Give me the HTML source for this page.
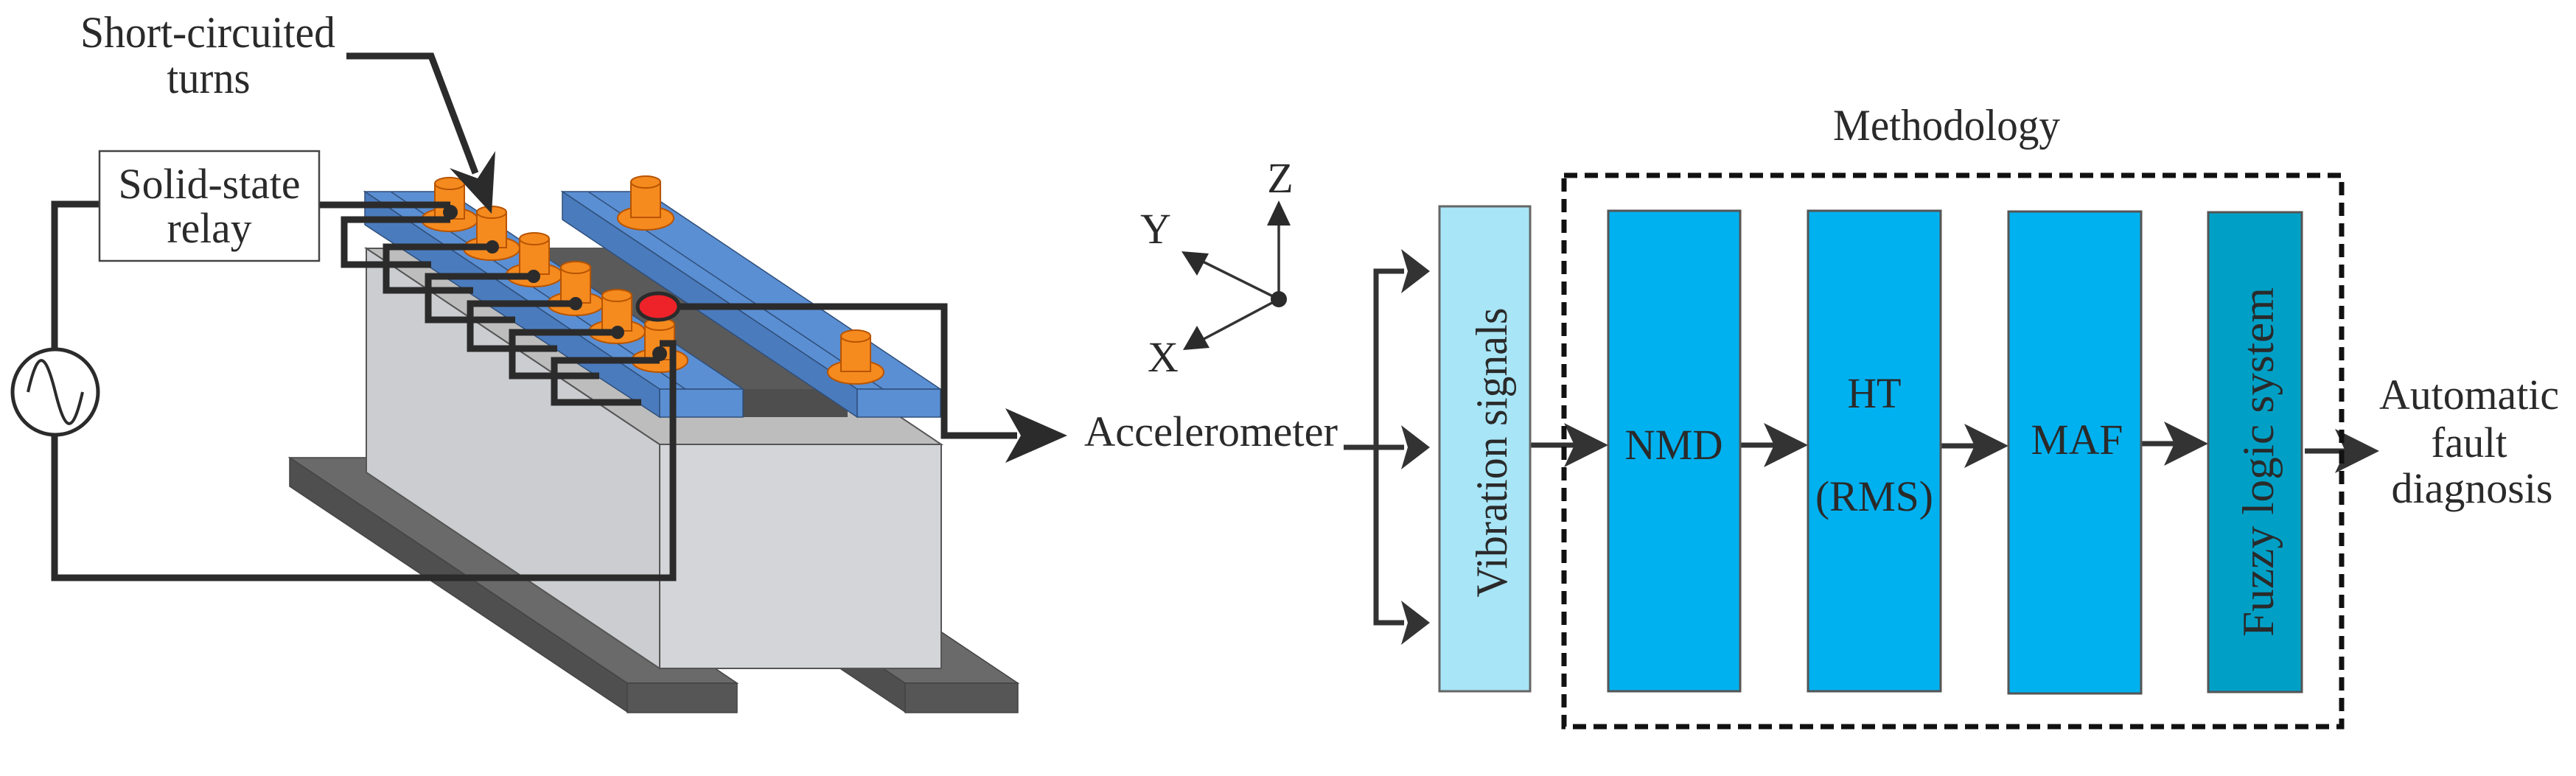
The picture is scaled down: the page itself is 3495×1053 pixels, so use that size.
<!DOCTYPE html>
<html><head><meta charset="utf-8"><style>
html,body{margin:0;padding:0;background:#fff;}
svg{display:block;}
svg text{font-family:"Liberation Serif","DejaVu Serif",serif !important;fill:#2a2a2a;}
</style></head><body>
<svg width="3495" height="1053" viewBox="0 0 3495 1053" xmlns="http://www.w3.org/2000/svg" font-family="'Liberation Serif', 'DejaVu Serif', serif">
<!-- base bars -->
<g stroke="#444" stroke-width="1.5">
<polygon points="393,621 546,621 1000,927 851,927" fill="#6a6a6a"/>
<polygon points="393,621 393,660 851,966 851,927" fill="#4f4f4f"/>
<rect x="851" y="927" width="149" height="40" fill="#565656"/>
<polygon points="770,621 923,621 1381,927 1228,927" fill="#6a6a6a"/>
<polygon points="770,621 770,660 1228,966 1228,927" fill="#4f4f4f"/>
<rect x="1228" y="927" width="153" height="40" fill="#565656"/>
</g>
<!-- box -->
<g stroke="#555" stroke-width="2">
<polygon points="497,337 497,641 895,907 895,603" fill="#cbcdd0"/>
<polygon points="497,337 880,337 1277,603 895,603" fill="#bdbdbd"/>
<rect x="895" y="603" width="382" height="304" fill="#d3d5d8"/>
</g>
<!-- dark core -->
<polygon points="700,337 860,337 1150,528 1008,528" fill="#5a5a5a"/>
<rect x="1008" y="528" width="142" height="38" fill="#4e4e4e"/>
<!-- blue bars -->
<g stroke="#2f4f7a" stroke-width="1.5">
<polygon points="495,260 608,260 1008,528 895,528" fill="#5b8fd3"/>
<polygon points="495,260 495,305 895,566 895,528" fill="#4a7bbd"/>
<rect x="895" y="528" width="113" height="38" fill="#5b8fd3"/>
<line x1="530" y1="260" x2="930" y2="528"/>
<polygon points="763,260 876,260 1276,528 1163,528" fill="#5b8fd3"/>
<polygon points="763,260 763,298 1163,566 1163,528" fill="#4a7bbd"/>
<rect x="1163" y="528" width="113" height="38" fill="#5b8fd3"/>
<line x1="798" y1="260" x2="1198" y2="528"/>
</g>
<!-- pins -->
<defs>
<g id="pin" stroke="#b85400" stroke-width="2" fill="#f58a1f">
<ellipse cx="0" cy="45" rx="38" ry="16"/>
<rect x="-20" y="-4" width="40" height="48"/>
<ellipse cx="0" cy="-4" rx="20" ry="8"/>
</g>
</defs>
<use href="#pin" x="610" y="253"/>
<use href="#pin" x="667" y="292"/>
<use href="#pin" x="725" y="328"/>
<use href="#pin" x="781" y="367"/>
<use href="#pin" x="837" y="405"/>
<use href="#pin" x="895" y="444"/>
<use href="#pin" x="876" y="251"/>
<use href="#pin" x="1161" y="460"/>
<!-- wires -->
<g fill="none" stroke="#2b2b2b" stroke-width="9" stroke-linejoin="miter">
<polyline points="433,278 611,278"/>
<polyline points="611,298 467,298 467,359 585,359"/>
<polyline points="668,335 524,335 524,394 642,394"/>
<polyline points="724,375 581,375 581,434 699,434"/>
<polyline points="781,412 638,412 638,473 756,473"/>
<polyline points="838,451 695,451 695,510 813,510"/>
<polyline points="895,489 752,489 752,546 870,546"/>
<polyline points="895,466 913,466 913,784 74,784 74,591"/>
<polyline points="74,473 74,277 135,277"/>
<polyline points="893,416 1281,416 1281,591 1380,591"/>
<polyline points="470,76 585,76 645,235"/>
</g>
<g fill="#2b2b2b">
<circle cx="611" cy="288" r="10"/><circle cx="668" cy="335" r="9"/><circle cx="724" cy="375" r="9"/>
<circle cx="781" cy="412" r="9"/><circle cx="838" cy="451" r="9"/><circle cx="895" cy="480" r="10"/>
</g>
<ellipse cx="893" cy="416" rx="28" ry="18" fill="#ee2229" stroke="#2b2b2b" stroke-width="5"/>
<polygon points="667,290 610,228 648,242 672,205" fill="#2b2b2b"/>
<polygon points="1448,591 1364,554 1385,591 1364,628" fill="#2b2b2b"/>
<!-- relay box -->
<rect x="135" y="205" width="298" height="149" fill="#fff" stroke="#444" stroke-width="2.5"/>
<text x="284" y="269" font-size="58" text-anchor="middle" textLength="247" lengthAdjust="spacingAndGlyphs">Solid-state</text>
<text x="284" y="329" font-size="58" text-anchor="middle" textLength="115" lengthAdjust="spacingAndGlyphs">relay</text>
<!-- AC source -->
<circle cx="75" cy="532" r="58" fill="#fff" stroke="#2b2b2b" stroke-width="5"/>
<path d="M38,532 C52,470 62,480 75,532 C88,584 98,594 112,532" fill="none" stroke="#2b2b2b" stroke-width="4"/>
<text x="282" y="64" font-size="60" text-anchor="middle" textLength="346" lengthAdjust="spacingAndGlyphs">Short-circuited</text>
<text x="283" y="126" font-size="60" text-anchor="middle" textLength="113" lengthAdjust="spacingAndGlyphs">turns</text>

<!-- axes -->
<g stroke="#333" stroke-width="3.5" fill="none">
<line x1="1735" y1="406" x2="1735" y2="290"/>
<line x1="1735" y1="406" x2="1620" y2="349"/>
<line x1="1735" y1="406" x2="1622" y2="466"/>
</g>
<g fill="#2b2b2b">
<circle cx="1735" cy="406" r="11"/>
<polygon points="1735,272 1719,306 1751,306"/>
<polygon points="1603,341 1640,344 1624,374"/>
<polygon points="1605,475 1624,442 1641,472"/>
</g>
<text x="1737" y="261" font-size="58" text-anchor="middle">Z</text>
<text x="1568" y="330" font-size="58" text-anchor="middle">Y</text>
<text x="1578" y="504" font-size="58" text-anchor="middle">X</text>
<text x="1471" y="605" font-size="58" textLength="344" lengthAdjust="spacingAndGlyphs">Accelerometer</text>

<g stroke="#333" stroke-width="7" fill="none">
<polyline points="1905,368 1867,368 1867,845 1905,845"/>
<line x1="1823" y1="607" x2="1905" y2="607"/>
<line x1="2076" y1="604" x2="2140" y2="604"/>
<line x1="2361" y1="604" x2="2410" y2="604"/>
<line x1="2633" y1="605" x2="2680" y2="605"/>
<line x1="2905" y1="602" x2="2950" y2="602"/>
<line x1="3127" y1="612" x2="3185" y2="612"/>
</g>
<g fill="#333">
<polygon points="1940,368 1901,338 1910,368 1901,398"/>
<polygon points="1940,607 1901,577 1910,607 1901,637"/>
<polygon points="1940,845 1901,815 1910,845 1901,875"/>
<polygon points="2182,604 2122,574 2136,604 2122,634"/>
<polygon points="2453,604 2393,574 2407,604 2393,634"/>
<polygon points="2725,605 2665,575 2679,605 2665,635"/>
<polygon points="2996,602 2936,572 2950,602 2936,632"/>
<polygon points="3228,612 3168,582 3182,612 3168,642"/>
</g>

<rect x="1953" y="280" width="123" height="658" fill="#a8e5f6" stroke="#666" stroke-width="3"/>
<rect x="2182" y="286" width="179" height="652" fill="#00b1f0" stroke="#555" stroke-width="3"/>
<rect x="2453" y="286" width="180" height="652" fill="#00b1f0" stroke="#555" stroke-width="3"/>
<rect x="2725" y="287" width="180" height="654" fill="#00b1f0" stroke="#555" stroke-width="3"/>
<rect x="2996" y="288" width="127" height="651" fill="#00a0c6" stroke="#555" stroke-width="3"/>

<rect x="2122" y="238" width="1055" height="748" fill="none" stroke="#111" stroke-width="7" stroke-dasharray="18,10"/>
<text x="2641" y="190" font-size="60" text-anchor="middle" textLength="308" lengthAdjust="spacingAndGlyphs">Methodology</text>

<text x="2271" y="623" font-size="58" text-anchor="middle" textLength="133" lengthAdjust="spacingAndGlyphs">NMD</text>
<text x="2543" y="553" font-size="58" text-anchor="middle" textLength="73" lengthAdjust="spacingAndGlyphs">HT</text>
<text x="2543" y="693" font-size="58" text-anchor="middle" textLength="160" lengthAdjust="spacingAndGlyphs">(RMS)</text>
<text x="2818" y="616" font-size="58" text-anchor="middle" textLength="125" lengthAdjust="spacingAndGlyphs">MAF</text>
<text transform="translate(2044,614) rotate(-90)" font-size="60" text-anchor="middle" textLength="393" lengthAdjust="spacingAndGlyphs">Vibration signals</text>
<text transform="translate(3084,627) rotate(-90)" font-size="60" text-anchor="middle" textLength="474" lengthAdjust="spacingAndGlyphs">Fuzzy logic system</text>

<text x="3350" y="555" font-size="58" text-anchor="middle" textLength="244" lengthAdjust="spacingAndGlyphs">Automatic</text>
<text x="3350" y="620" font-size="58" text-anchor="middle" textLength="103" lengthAdjust="spacingAndGlyphs">fault</text>
<text x="3354" y="682" font-size="58" text-anchor="middle" textLength="219" lengthAdjust="spacingAndGlyphs">diagnosis</text>
</svg>
</body></html>
